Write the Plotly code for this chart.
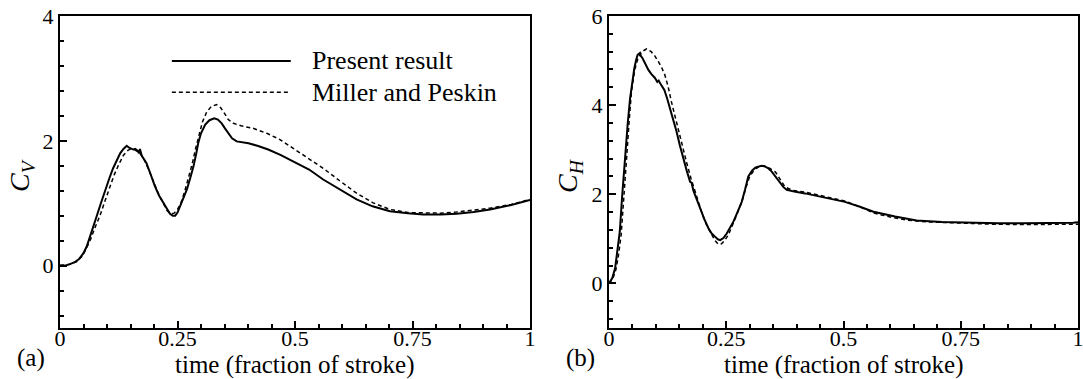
import plotly.graph_objects as go

# ---------------- data ----------------
t_a_present = [0.000, 0.010, 0.020, 0.030, 0.040, 0.050, 0.057, 0.065, 0.078, 0.087,
               0.096, 0.105, 0.113, 0.120, 0.128, 0.135, 0.142, 0.147, 0.150, 0.156,
               0.160, 0.165, 0.168, 0.170, 0.174, 0.184, 0.193, 0.202, 0.211, 0.220,
               0.228, 0.234, 0.240, 0.245, 0.250, 0.255, 0.262, 0.270, 0.277, 0.284,
               0.290, 0.294, 0.300, 0.309, 0.318, 0.328, 0.336, 0.344, 0.351, 0.358,
               0.366, 0.376, 0.390, 0.401, 0.420, 0.443, 0.470, 0.500, 0.530, 0.560,
               0.595, 0.631, 0.665, 0.702, 0.740, 0.773, 0.810, 0.844, 0.880, 0.915,
               0.960, 1.000]
cv_present = [0.00, 0.00, 0.02, 0.05, 0.10, 0.20, 0.31, 0.48, 0.79, 1.00,
              1.22, 1.40, 1.56, 1.68, 1.80, 1.87, 1.92, 1.89, 1.88, 1.86,
              1.87, 1.84, 1.80, 1.87, 1.76, 1.64, 1.46, 1.27, 1.12, 1.00,
              0.89, 0.83, 0.80, 0.80, 0.85, 0.95, 1.07, 1.22, 1.40, 1.59,
              1.80, 1.96, 2.12, 2.26, 2.33, 2.36, 2.34, 2.28, 2.20, 2.12,
              2.04, 1.99, 1.97, 1.96, 1.92, 1.86, 1.77, 1.66, 1.54, 1.38,
              1.22, 1.06, 0.95, 0.87, 0.84, 0.82, 0.82, 0.83, 0.86, 0.90,
              0.97, 1.05]

t_a_miller = [0.000, 0.020, 0.035, 0.046, 0.055, 0.065, 0.075, 0.085, 0.095, 0.105,
              0.115, 0.125, 0.135, 0.145, 0.152, 0.160, 0.170, 0.180, 0.190, 0.200,
              0.210, 0.220, 0.228, 0.236, 0.243, 0.250, 0.257, 0.265, 0.273, 0.281,
              0.288, 0.295, 0.303, 0.312, 0.322, 0.333, 0.342, 0.350, 0.358, 0.369,
              0.385, 0.411, 0.440, 0.468, 0.490, 0.510, 0.535, 0.560, 0.595, 0.631,
              0.665, 0.702, 0.740, 0.773, 0.810, 0.844, 0.880, 0.915, 0.960, 1.000]
cv_miller = [0.00, 0.02, 0.06, 0.14, 0.26, 0.42, 0.62, 0.80, 1.02, 1.25,
             1.45, 1.62, 1.77, 1.85, 1.87, 1.85, 1.80, 1.69, 1.52, 1.33,
             1.14, 0.99, 0.88, 0.83, 0.84, 0.90, 1.00, 1.18, 1.38, 1.62,
             1.86, 2.08, 2.30, 2.46, 2.55, 2.58, 2.53, 2.44, 2.34, 2.28,
             2.24, 2.20, 2.12, 2.02, 1.91, 1.81, 1.69, 1.56, 1.36, 1.16,
             1.01, 0.90, 0.85, 0.84, 0.84, 0.86, 0.89, 0.92, 0.98, 1.06]

t_b_present = [0.000, 0.007, 0.013, 0.018, 0.023, 0.028, 0.034, 0.040, 0.045, 0.050,
               0.054, 0.058, 0.061, 0.066, 0.068, 0.071, 0.077, 0.084, 0.090, 0.098,
               0.103, 0.106, 0.109, 0.114, 0.118, 0.124, 0.130, 0.137, 0.144, 0.151,
               0.158, 0.166, 0.173, 0.176, 0.180, 0.187, 0.194, 0.203, 0.212, 0.219,
               0.226, 0.232, 0.237, 0.244, 0.251, 0.258, 0.265, 0.274, 0.283, 0.290,
               0.297, 0.305, 0.312, 0.318, 0.326, 0.333, 0.340, 0.347, 0.356, 0.365,
               0.372, 0.379, 0.395, 0.418, 0.460, 0.503, 0.535, 0.564, 0.610, 0.656,
               0.710, 0.777, 0.830, 0.883, 0.940, 0.990, 1.000]
ch_present = [0.00, 0.12, 0.34, 0.70, 1.16, 1.95, 2.88, 3.60, 4.16, 4.55,
              4.83, 5.02, 5.13, 5.17, 5.10, 5.06, 4.93, 4.79, 4.70, 4.61,
              4.52, 4.55, 4.49, 4.42, 4.34, 4.15, 3.93, 3.68, 3.41, 3.10,
              2.81, 2.52, 2.28, 2.26, 2.08, 1.88, 1.69, 1.45, 1.24, 1.12,
              1.05, 0.99, 0.97, 1.02, 1.12, 1.24, 1.38, 1.60, 1.83, 2.10,
              2.40, 2.53, 2.60, 2.62, 2.64, 2.62, 2.58, 2.51, 2.38, 2.25,
              2.16, 2.10, 2.06, 2.02, 1.93, 1.83, 1.72, 1.61, 1.50, 1.41,
              1.38, 1.36, 1.35, 1.35, 1.35, 1.36, 1.37]

t_b_miller = [0.000, 0.008, 0.015, 0.020, 0.026, 0.032, 0.038, 0.043, 0.048, 0.055,
              0.062, 0.070, 0.080, 0.090, 0.098, 0.105, 0.112, 0.119, 0.126, 0.133,
              0.140, 0.148, 0.156, 0.165, 0.175, 0.186, 0.197, 0.208, 0.218, 0.226,
              0.233, 0.240, 0.247, 0.255, 0.265, 0.274, 0.283, 0.292, 0.300, 0.310,
              0.320, 0.330, 0.340, 0.355, 0.365, 0.375, 0.390, 0.418, 0.460, 0.503,
              0.535, 0.564, 0.600, 0.635, 0.680, 0.740, 0.812, 0.880, 0.940, 1.000]
ch_miller = [0.00, 0.10, 0.32, 0.62, 1.10, 1.90, 2.88, 3.65, 4.31, 4.80,
             5.06, 5.20, 5.26, 5.20, 5.10, 4.98, 4.85, 4.68, 4.42, 4.08,
             3.78, 3.48, 3.10, 2.73, 2.35, 1.98, 1.62, 1.31, 1.10, 0.96,
             0.88, 0.89, 0.97, 1.10, 1.35, 1.58, 1.82, 2.15, 2.40, 2.55,
             2.62, 2.64, 2.60, 2.50, 2.33, 2.17, 2.09, 2.05, 1.95, 1.85,
             1.72, 1.58, 1.49, 1.42, 1.38, 1.35, 1.33, 1.32, 1.32, 1.33]

x_tickvals = [0, 0.25, 0.5, 0.75, 1]
x_ticktext = ["0", "0.25", "0.5", "0.75", "1"]
ya_tickvals = [0, 2, 4]
ya_ticktext = ["0", "2", "4"]
yb_tickvals = [0, 2, 4, 6]
yb_ticktext = ["0", "2", "4", "6"]
series_names = ["Present result", "Miller and Peskin"]

# ---------------- figure ----------------
FONT = "Liberation Serif, Times New Roman, Times, serif"
W, H = 1083, 379
solid = dict(color="black", width=2)
dashed = dict(color="black", width=1.5, dash="4px,3px")

fig = go.Figure()
fig.add_trace(go.Scatter(x=t_a_present, y=cv_present, mode="lines", line=solid,
                         name=series_names[0], xaxis="x", yaxis="y", showlegend=False))
fig.add_trace(go.Scatter(x=t_a_miller, y=cv_miller, mode="lines", line=dashed,
                         name=series_names[1], xaxis="x", yaxis="y", showlegend=False))
fig.add_trace(go.Scatter(x=t_b_present, y=ch_present, mode="lines", line=solid,
                         name=series_names[0], xaxis="x2", yaxis="y2", showlegend=False))
fig.add_trace(go.Scatter(x=t_b_miller, y=ch_miller, mode="lines", line=dashed,
                         name=series_names[1], xaxis="x2", yaxis="y2", showlegend=False))

ydom = [1 - 328 / H, 1 - 16 / H]
xdom_a = [60 / W, 530 / W]
xdom_b = [609 / W, 1078 / W]
TICKSIZE = 22

def xaxis(dom, anchor):
    return dict(domain=dom, anchor=anchor, range=[0, 1], showgrid=False, zeroline=False,
                automargin=False, ticklabeloverflow="allow",
                showline=True, linecolor="black", linewidth=2, mirror=True,
                ticks="inside", ticklen=7, tickwidth=1.5, tickcolor="black",
                tickvals=x_tickvals, ticktext=x_ticktext, ticklabelstandoff=-10,
                minor=dict(dtick=0.05, tick0=0, ticks="inside", ticklen=4,
                           tickwidth=1.5, tickcolor="black", showgrid=False),
                tickfont=dict(family=FONT, size=TICKSIZE, color="black"))

def yaxis(rng, vals, text, anchor):
    return dict(domain=ydom, anchor=anchor, range=rng, showgrid=False, zeroline=False,
                automargin=False, ticklabeloverflow="allow",
                showline=True, linecolor="black", linewidth=2, mirror=True,
                ticks="inside", ticklen=7, tickwidth=1.5, tickcolor="black",
                tickvals=vals, ticktext=text,
                minor=dict(dtick=0.4, tick0=0, ticks="inside", ticklen=4,
                           tickwidth=1.5, tickcolor="black", showgrid=False),
                tickfont=dict(family=FONT, size=TICKSIZE, color="black"))

fig.update_layout(
    template="none",
    width=W, height=H, margin=dict(l=0, r=0, t=0, b=0, pad=0), autosize=False,
    paper_bgcolor="white", plot_bgcolor="white", showlegend=False,
    font=dict(family=FONT, color="black"),
    xaxis=xaxis(xdom_a, "y"), yaxis=yaxis([-1, 4], ya_tickvals, ya_ticktext, "x"),
    xaxis2=xaxis(xdom_b, "y2"), yaxis2=yaxis([-1, 6], yb_tickvals, yb_ticktext, "x2"),
)

# legend drawn inside panel (a)
leg_y = [3.28, 2.78]
leg_styles = [solid, dashed]
for yy, st, nm in zip(leg_y, leg_styles, series_names):
    fig.add_shape(type="line", xref="x", yref="y", x0=0.238, x1=0.491, y0=yy, y1=yy,
                  line=st)
    fig.add_annotation(xref="x", yref="y", x=0.532, y=yy, text=nm, showarrow=False,
                       xanchor="left", yanchor="middle",
                       font=dict(family=FONT, size=26, color="black"))

tfont = dict(family=FONT, size=25, color="black")
# axis titles and panel labels
for cx in [(60 + 530) / 2, (609 + 1078) / 2]:
    fig.add_annotation(xref="paper", yref="paper", x=cx / W, y=0, yshift=-2,
                       text="time (fraction of stroke)", showarrow=False,
                       xanchor="center", yanchor="bottom", font=tfont)
fig.add_annotation(xref="paper", yref="paper", x=31 / W, y=1 - 358 / H, text="(a)",
                   showarrow=False, xanchor="center", yanchor="middle", font=tfont)
fig.add_annotation(xref="paper", yref="paper", x=580 / W, y=1 - 358 / H, text="(b)",
                   showarrow=False, xanchor="center", yanchor="middle", font=tfont)
fig.add_annotation(xref="paper", yref="paper", x=21 / W, y=1 - 176 / H,
                   text="<i>C</i><sub><i>V</i></sub>", textangle=-90, showarrow=False,
                   xanchor="center", yanchor="middle", font=dict(family=FONT, size=28, color="black"))
fig.add_annotation(xref="paper", yref="paper", x=569 / W, y=1 - 176 / H,
                   text="<i>C</i><sub><i>H</i></sub>", textangle=-90, showarrow=False,
                   xanchor="center", yanchor="middle", font=dict(family=FONT, size=28, color="black"))

fig.write_html("out.html")
